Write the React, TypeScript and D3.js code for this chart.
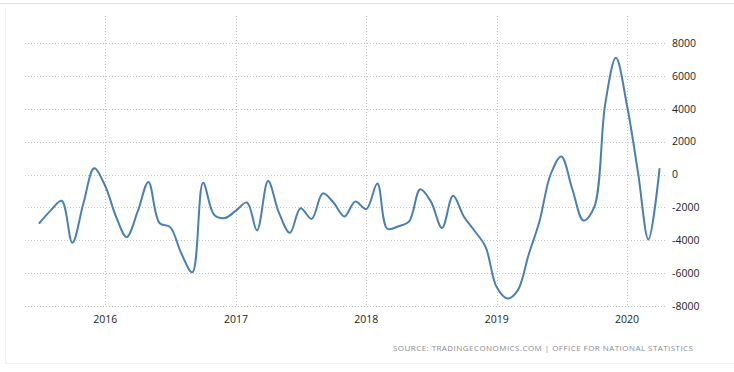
import React from "react";
import * as d3 from "d3";

const startMonth = "2015-07";
const values = [
  -2950, -2200, -1600, -4150, -1750, 375,
  -700, -2600, -3800, -2250, -450, -2950, -3200, -4800, -5950, -500, -2450, -2650,
  -2200, -1700, -3400, -400, -2300, -3550, -2050, -2700, -1150, -1700, -2550, -1650,
  -2100, -550, -3300, -3150, -2850, -900, -1650, -3250, -1300, -2550, -3450, -4400,
  -6850, -7550, -7050, -4850, -2850, 0, 1100, -900, -2800, -2000, 4300, 7100,
  4200, 100, -3950, 330,
];
const yTicks = [8000, 6000, 4000, 2000, 0, -2000, -4000, -6000, -8000];
const xTickYears = [2016, 2017, 2018, 2019, 2020];
const sourceText = "SOURCE: TRADINGECONOMICS.COM | OFFICE FOR NATIONAL STATISTICS";

export default function App() {
  const W = 734, H = 372;
  const parse = d3.timeParse("%Y-%m");
  const t0 = parse(startMonth) as Date;
  const dates = values.map((_, i) => d3.timeMonth.offset(t0, i));
  const data = values.map((v, i) => ({ d: dates[i], v }));

  const x = d3.scaleTime().domain([dates[0], dates[dates.length - 1]]).range([39.5, 659.5]);
  const y = d3.scaleLinear().domain([-8000, 8000]).range([306, 43]);

  const line = d3
    .line<{ d: Date; v: number }>()
    .x((p) => x(p.d))
    .y((p) => y(p.v))
    .curve(d3.curveCatmullRom.alpha(0.5));

  const font = "'Open Sans', 'DejaVu Sans', sans-serif";

  return (
    <svg width={W} height={H} style={{ position: "absolute", left: 0, top: 0, background: "#fff" }}>
      <line x1={0} x2={W} y1={3.5} y2={3.5} stroke="#e2e2e2" />
      <line x1={5.5} x2={5.5} y1={8} y2={363} stroke="#f0f0f0" />
      <line x1={5} x2={W} y1={363.5} y2={363.5} stroke="#f2f2f2" />
      {yTicks.map((t) => (
        <line key={"h" + t} x1={25} x2={667} y1={Math.round(y(t)) + 0.5} y2={Math.round(y(t)) + 0.5}
          stroke="#c4c4c4" strokeDasharray="1,2" />
      ))}
      {xTickYears.map((yr) => {
        const xx = Math.round(x(new Date(yr, 0, 1))) + 0.5;
        return (
          <line key={"v" + yr} x1={xx} x2={xx} y1={16} y2={306} stroke="#c4c4c4" strokeDasharray="1,2" />
        );
      })}
      <path d={line(data) || ""} fill="none" stroke="#4a7fb2" strokeWidth={2} strokeLinejoin="round" strokeLinecap="round" />
      {yTicks.map((t) => (
        <text key={"yl" + t} x={672} y={y(t) + 3.8} fontFamily={font} fontSize={10.5} fill="#222">
          {t}
        </text>
      ))}
      {xTickYears.map((yr) => (
        <text key={"xl" + yr} x={x(new Date(yr, 0, 1))} y={323} textAnchor="middle" fontFamily={font} fontSize={10.5} fill="#222">
          {yr}
        </text>
      ))}
      <text x={393} y={351} fontFamily={font} fontSize={8} fill="#8a8a8a" textLength={300} lengthAdjust="spacing">
        {sourceText}
      </text>
    </svg>
  );
}
